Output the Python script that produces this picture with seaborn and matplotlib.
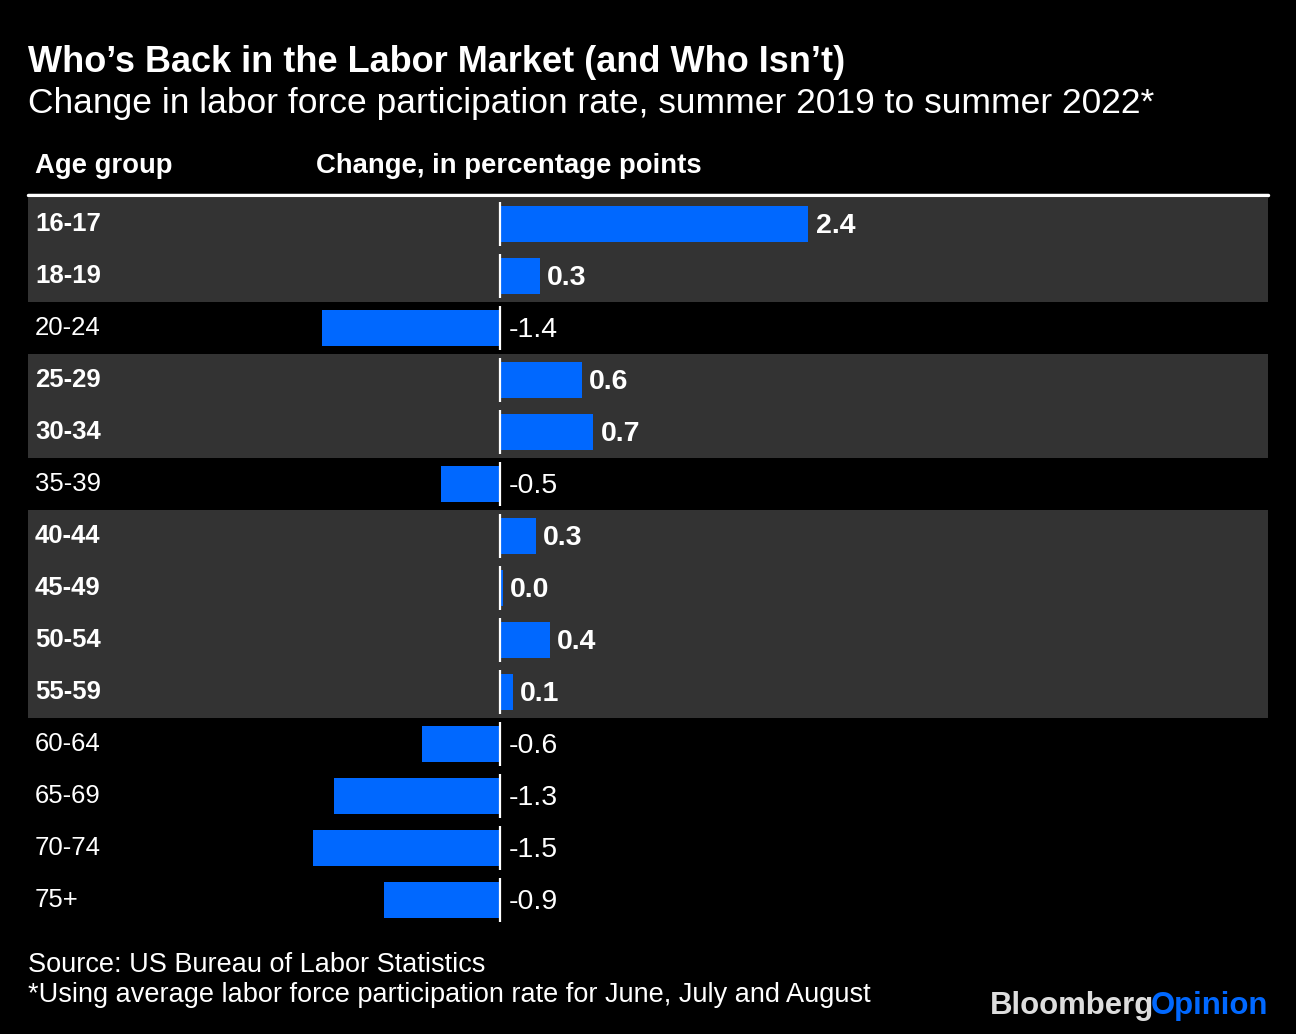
import matplotlib.pyplot as plt
import seaborn as sns

W, H = 1296, 1034

# data
age_groups = ["16-17", "18-19", "20-24", "25-29", "30-34", "35-39", "40-44",
              "45-49", "50-54", "55-59", "60-64", "65-69", "70-74", "75+"]
change = [2.41, 0.31, -1.39, 0.64, 0.73, -0.46, 0.28,
          0.02, 0.39, 0.10, -0.61, -1.30, -1.46, -0.91]

title = "Who\u2019s Back in the Labor Market (and Who Isn\u2019t)"
subtitle = "Change in labor force participation rate, summer 2019 to summer 2022*"
source = "Source: US Bureau of Labor Statistics"
note = "*Using average labor force participation rate for June, July and August"

BLUE = "#0068ff"
BAND = "#333333"
FONT = "Liberation Sans"

sns.set_theme(style="white")
plt.rcParams["font.family"] = [FONT, "DejaVu Sans"]

fig = plt.figure(figsize=(W / 100, H / 100), dpi=100, facecolor="black")

# chart area: x 28..1268 px, rows 198..926 px
ax = fig.add_axes([28 / W, (H - 926) / H, 1240 / W, 728 / H])
ax.set_facecolor("black")

n = len(age_groups)
# grey bands behind rows with non-negative change
for i, v in enumerate(change):
    if v >= 0:
        ax.axhspan(i - 0.5, i + 0.5, color=BAND, lw=0, zorder=0)

sns.barplot(x=change, y=age_groups, orient="h", color=BLUE, width=0.68,
            saturation=1, linewidth=0, edgecolor="none", ax=ax, zorder=2)

# zero line, segmented per row
ax.vlines([0] * n, [i - 0.42 for i in range(n)], [i + 0.42 for i in range(n)],
          color="white", lw=1.6, zorder=3)

ax.set_xlim((28 - 500) / 128, (1268 - 500) / 128)
ax.set_ylim(n - 0.5, -0.5)
ax.axis("off")

for i, (g, v) in enumerate(zip(age_groups, change)):
    pos = v >= 0
    ax.text(7 / 1240, i, g, transform=ax.get_yaxis_transform(),
            ha="left", va="center", color="white", fontsize=18.5,
            fontweight="bold" if pos else "normal")
    xt = (max(v, 0) + 0.055) if pos else 0.07
    ax.text(xt, i + 0.03, f"{v:.1f}", ha="left", va="center", color="white",
            fontsize=20.5, fontweight="bold" if pos else "normal")

# titles and header
fig.text(28 / W, 1 - 62 / H, title, color="white", fontsize=26,
         fontweight="bold", ha="left", va="center")
fig.text(28 / W, 1 - 104 / H, subtitle, color="white", fontsize=25.5,
         ha="left", va="center")
fig.text(35 / W, 1 - 166 / H, "Age group", color="white", fontsize=19.8,
         fontweight="bold", ha="left", va="center")
fig.text(316 / W, 1 - 166 / H, "Change, in percentage points", color="white",
         fontsize=19.8, fontweight="bold", ha="left", va="center")
fig.add_artist(plt.Line2D([28 / W, 1268 / W], [1 - 195 / H] * 2,
                          color="white", lw=2.5))

# footer
fig.text(28 / W, 1 - 965 / H, source, color="white", fontsize=19.5,
         ha="left", va="center")
fig.text(28 / W, 1 - 995 / H, note, color="white", fontsize=19.5,
         ha="left", va="center")

op = fig.text(1268 / W, 1 - 1006 / H, "Opinion", color=BLUE, fontsize=22.4,
              fontweight="bold", ha="right", va="center")
fig.canvas.draw()
bb = op.get_window_extent()
fig.text((bb.x0 + 3) / W, 1 - 1006 / H, "Bloomberg", color="#dddddd",
         fontsize=22.4, fontweight="bold", ha="right", va="center")

fig.savefig("out.png", dpi=100, facecolor="black")
